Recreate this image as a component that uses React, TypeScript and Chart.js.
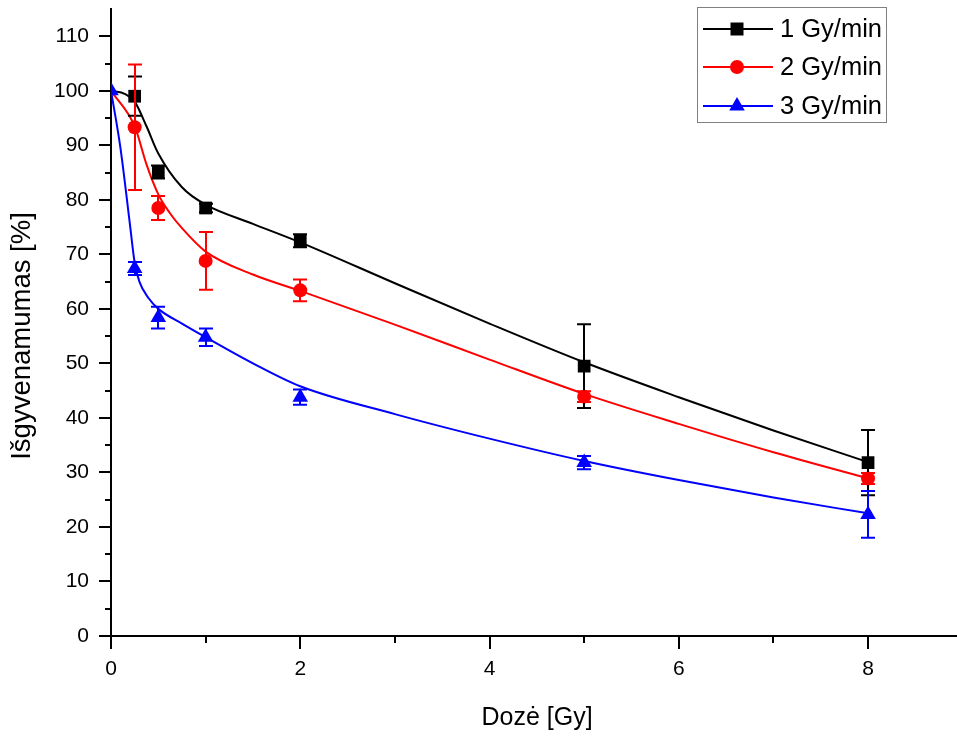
import React, { useEffect, useRef } from 'react';
import { Chart, registerables } from 'chart.js';
Chart.register(...registerables);

const FONT = "'Liberation Sans', Arial, sans-serif";

// Measured points (mean ± error)
const doses = [0.25, 0.5, 1, 2, 5, 8];
const rate1Mean = [99.0, 85.1, 78.5, 72.5, 49.5, 31.8];
const rate1Err = [3.6, 1.2, 0.8, 1.2, 7.7, 6.0];
const rate2Mean = [93.3, 78.5, 68.8, 63.4, 43.9, 28.9];
const rate2Err = [11.5, 2.2, 5.3, 2.0, 1.0, 1.0];
const rate3Doses = [0, 0.25, 0.5, 1, 2, 5, 8];
const rate3Mean = [100, 67.4, 58.4, 54.8, 43.8, 31.8, 22.3];
const rate3Err = [0, 1.2, 2.0, 1.6, 1.4, 1.2, 4.3];

// Fitted curves
const fit1X = [0, 0.15, 0.25, 0.375, 0.5, 0.75, 1, 1.5, 2, 3, 4, 5, 6, 7, 8];
const fit1Y = [100, 99.4, 98, 93.5, 88.5, 82.3, 79.1, 75.6, 72.2, 64.7, 57.3, 50.2, 43.8, 37.7, 31.9];
const fit2X = [0, 0.25, 0.375, 0.5, 0.625, 0.75, 1, 1.5, 2, 3, 4, 5, 6, 7, 8];
const fit2Y = [100, 93.5, 86.5, 81.0, 77.5, 74.8, 70.5, 66.3, 63.3, 57.1, 50.7, 44.4, 38.9, 33.7, 28.9];
const fit3X = [0, 0.1, 0.2, 0.25, 0.3, 0.4, 0.5, 0.75, 1, 1.5, 2, 3, 4, 5, 6, 7, 8];
const fit3Y = [100, 89.5, 75.5, 68.5, 65, 61.9, 60.0, 57.3, 54.8, 50.0, 45.8, 40.7, 36.2, 32.1, 28.6, 25.4, 22.5];

const seriesNames = ['1 Gy/min', '2 Gy/min', '3 Gy/min'];
const seriesColors = ['#000000', '#ff0000', '#0000ff'];
const seriesMarkers = ['rect', 'circle', 'triangle'];
const markerRadius = [9, 7, 9];

const yMajorTicks = [0, 10, 20, 30, 40, 50, 60, 70, 80, 90, 100, 110];
const yMinorTicks = [5, 15, 25, 35, 45, 55, 65, 75, 85, 95, 105];
const xMajorTicks = [0, 2, 4, 6, 8];
const xMinorTicks = [1, 3, 5, 7];

const xTitle = 'Dozė [Gy]';
const yTitle = 'Išgyvenamumas [%]';

const pts = (xs: number[], ys: number[]) => xs.map((x, i) => ({ x, y: ys[i] }));

const errorSets = [
  { xs: doses, ys: rate1Mean, es: rate1Err, color: seriesColors[0] },
  { xs: doses, ys: rate2Mean, es: rate2Err, color: seriesColors[1] },
  { xs: rate3Doses, ys: rate3Mean, es: rate3Err, color: seriesColors[2] },
];

const zeroPad = (s: any) => {
  s.paddingTop = 0;
  s.paddingBottom = 0;
  s.paddingLeft = 0;
  s.paddingRight = 0;
};

const decor = {
  id: 'decor',
  afterDatasetsDraw(chart: any) {
    const ctx = chart.ctx;
    const xs = chart.scales.x, ys = chart.scales.y;
    ctx.save();
    ctx.lineWidth = 2;
    errorSets.forEach((s) => {
      ctx.strokeStyle = s.color;
      s.xs.forEach((x, i) => {
        const e = s.es[i];
        if (!e) return;
        const px = Math.round(xs.getPixelForValue(x));
        const top = ys.getPixelForValue(s.ys[i] + e);
        const bot = ys.getPixelForValue(s.ys[i] - e);
        ctx.beginPath();
        ctx.moveTo(px, top); ctx.lineTo(px, bot);
        ctx.moveTo(px - 7, top); ctx.lineTo(px + 7, top);
        ctx.moveTo(px - 7, bot); ctx.lineTo(px + 7, bot);
        ctx.stroke();
      });
    });
    ctx.restore();
  },
  afterDraw(chart: any) {
    const ctx = chart.ctx;
    const xs = chart.scales.x, ys = chart.scales.y;
    const x0 = chart.chartArea.left;
    const y0 = chart.chartArea.bottom;
    ctx.save();
    ctx.strokeStyle = '#000';
    ctx.lineWidth = 2;
    ctx.beginPath();
    yMajorTicks.forEach((v) => { const p = Math.round(ys.getPixelForValue(v)); ctx.moveTo(x0 - 12, p); ctx.lineTo(x0, p); });
    yMinorTicks.forEach((v) => { const p = Math.round(ys.getPixelForValue(v)); ctx.moveTo(x0 - 6, p); ctx.lineTo(x0, p); });
    xMajorTicks.forEach((v) => { const p = Math.round(xs.getPixelForValue(v)); ctx.moveTo(p, y0); ctx.lineTo(p, y0 + 13); });
    xMinorTicks.forEach((v) => { const p = Math.round(xs.getPixelForValue(v)); ctx.moveTo(p, y0); ctx.lineTo(p, y0 + 7); });
    ctx.stroke();

    // titles
    ctx.fillStyle = '#000';
    ctx.textAlign = 'center';
    ctx.textBaseline = 'middle';
    ctx.font = `25px ${FONT}`;
    ctx.fillText(xTitle, 537, 718);
    ctx.save();
    ctx.translate(22, 336);
    ctx.rotate(-Math.PI / 2);
    ctx.font = `27.5px ${FONT}`;
    ctx.fillText(yTitle, 0, 0);
    ctx.restore();

    // legend
    ctx.lineWidth = 1;
    ctx.strokeStyle = '#808080';
    ctx.strokeRect(697.5, 7.5, 189, 115);
    const rows = [29, 67, 106];
    ctx.font = `25.5px ${FONT}`;
    ctx.textAlign = 'left';
    seriesNames.forEach((name, i) => {
      const y = rows[i];
      ctx.strokeStyle = seriesColors[i];
      ctx.fillStyle = seriesColors[i];
      ctx.lineWidth = 2;
      ctx.beginPath();
      ctx.moveTo(703, y); ctx.lineTo(773, y);
      ctx.stroke();
      const cx = 737;
      ctx.beginPath();
      if (seriesMarkers[i] === 'rect') {
        ctx.rect(cx - 6.5, y - 6.5, 13, 13);
      } else if (seriesMarkers[i] === 'circle') {
        ctx.arc(cx, y, 7, 0, Math.PI * 2);
      } else {
        const r = 9;
        ctx.moveTo(cx, y - r);
        ctx.lineTo(cx + r * Math.sin(2 * Math.PI / 3), y - r * Math.cos(2 * Math.PI / 3));
        ctx.lineTo(cx + r * Math.sin(4 * Math.PI / 3), y - r * Math.cos(4 * Math.PI / 3));
        ctx.closePath();
      }
      ctx.fill();
      ctx.fillStyle = '#000';
      ctx.fillText(name, 780, y + 1);
    });
    ctx.restore();
  },
};

const CANVAS_W = 966;
const CANVAS_H = 740;

export default function App() {
  const ref = useRef<HTMLCanvasElement>(null);
  useEffect(() => {
    const canvas = ref.current!;
    const fits = [pts(fit1X, fit1Y), pts(fit2X, fit2Y), pts(fit3X, fit3Y)];
    const marks = [pts(doses, rate1Mean), pts(doses, rate2Mean), pts(rate3Doses, rate3Mean)];
    const datasets: any[] = [];
    marks.forEach((m, i) => {
      datasets.push({
        label: seriesNames[i] + ' points',
        data: m,
        showLine: false,
        pointStyle: seriesMarkers[i],
        pointRadius: markerRadius[i],
        pointBackgroundColor: seriesColors[i],
        pointBorderColor: seriesColors[i],
        pointBorderWidth: 0,
        order: i,
      });
    });
    fits.forEach((f, i) => {
      datasets.push({
        label: seriesNames[i],
        data: f,
        showLine: true,
        pointRadius: 0,
        borderColor: seriesColors[i],
        borderWidth: 2,
        cubicInterpolationMode: 'monotone',
        fill: false,
        order: 10 + i,
      });
    });
    const chart = new Chart(canvas, {
      type: 'scatter',
      data: { datasets },
      options: {
        responsive: false,
        animation: false,
        layout: { padding: { top: 7, left: 0, right: 0, bottom: 0 } },
        plugins: { legend: { display: false }, tooltip: { enabled: false } },
        scales: {
          x: {
            type: 'linear', min: 0, max: 8.94, position: 'bottom',
            grid: { display: false },
            border: { display: true, color: '#000', width: 2 },
            ticks: { stepSize: 2, includeBounds: false, color: '#000', padding: 13, font: { family: FONT, size: 21 } },
            afterFit: (s: any) => { s.height = 104; zeroPad(s); },
          },
          y: {
            type: 'linear', min: 0, max: 115, position: 'left',
            grid: { display: false },
            border: { display: true, color: '#000', width: 2 },
            ticks: { stepSize: 10, includeBounds: false, color: '#000', padding: 14, font: { family: FONT, size: 21 } },
            afterFit: (s: any) => { s.width = 111; zeroPad(s); },
          },
        },
      } as any,
      plugins: [decor],
    });
    return () => chart.destroy();
  }, []);
  return (
    <div style={{ position: 'absolute', left: 0, top: 0, width: 957, height: 740, overflow: 'hidden', background: '#fff' }}>
      <canvas
        ref={ref}
        width={CANVAS_W}
        height={CANVAS_H}
        style={{ position: 'absolute', left: 0, top: 0, width: CANVAS_W, height: CANVAS_H }}
      />
    </div>
  );
}
